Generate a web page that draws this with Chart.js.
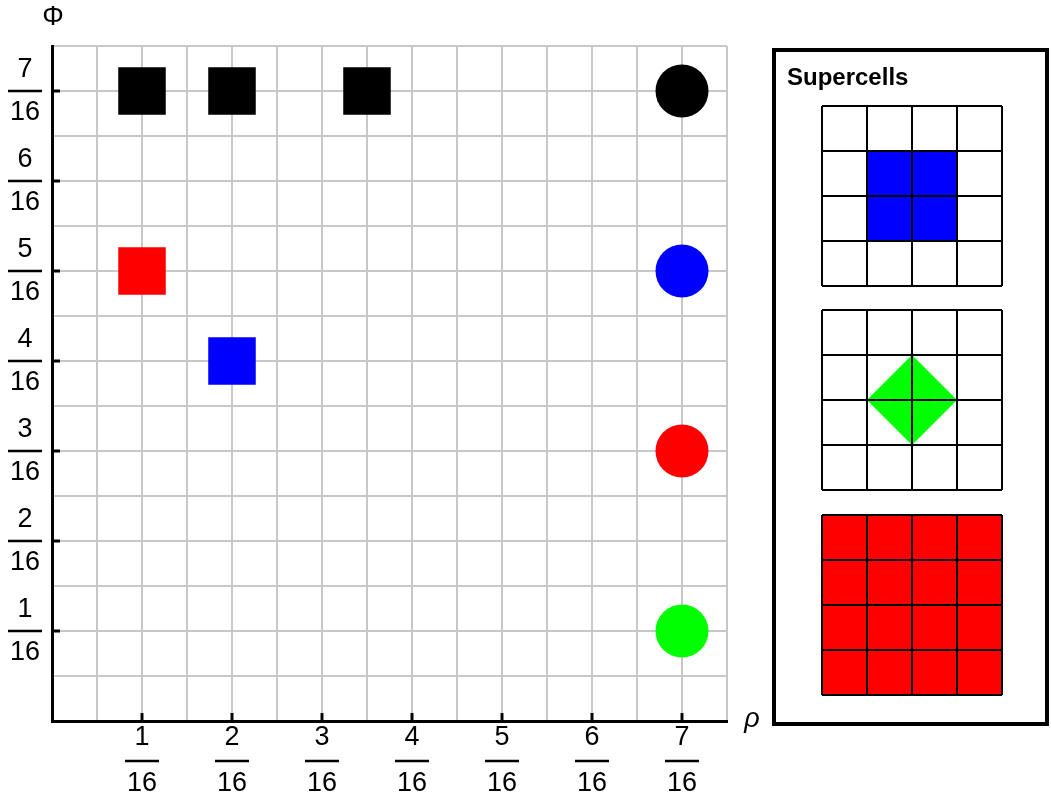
<!DOCTYPE html>
<html>
<head>
<meta charset="utf-8">
<script src="https://cdn.jsdelivr.net/npm/chart.js@4/dist/chart.umd.min.js"></script>
<style>
  html, body { margin: 0; padding: 0; background: #fff; }
  #wrap { width: 1051px; height: 803px; }
</style>
</head>
<body>
<div id="wrap"><canvas id="chart"></canvas></div>
<script>
// positions are in units of 1/16
const squareRho = [1, 2, 3.5, 1, 2];
const squarePhi = [7, 7, 7, 5, 4];
const squareColors = ["#000000", "#000000", "#000000", "#ff0000", "#0000ff"];

const circleRho = [7, 7, 7, 7];
const circlePhi = [7, 5, 3, 1];
const circleColors = ["#000000", "#0000ff", "#ff0000", "#00ff00"];

const tickNumerators = [1, 2, 3, 4, 5, 6, 7];
const denominator = "16";

const legendTitle = "Supercells";
const legendKinds = ["block", "diamond", "full"];
const legendColors = ["#0000ff", "#00ff00", "#ff0000"];

const FONT = "'Liberation Sans', Arial, Helvetica, sans-serif";

const fracLabel = (v) => tickNumerators.includes(v) ? [String(v), "", denominator] : "";

const toPoints = (xs, ys) => xs.map((x, i) => ({ x: x, y: ys[i] }));

// fraction bars, inward tick marks, axis symbols
const axisExtras = {
  id: "axisExtras",
  afterDraw(chart) {
    const ctx = chart.ctx;
    const xs = chart.scales.x, ys = chart.scales.y;
    ctx.save();
    ctx.strokeStyle = "#000";
    ctx.lineCap = "butt";

    // inward ticks
    ctx.lineWidth = 3;
    tickNumerators.forEach((v) => {
      const px = xs.getPixelForValue(v);
      ctx.beginPath();
      ctx.moveTo(px, xs.top);
      ctx.lineTo(px, xs.top - 8);
      ctx.stroke();
      const py = ys.getPixelForValue(v);
      ctx.beginPath();
      ctx.moveTo(ys.right, py);
      ctx.lineTo(ys.right + 8, py);
      ctx.stroke();
    });

    // fraction bars
    ctx.lineWidth = 2.5;
    const xFont = xs.options.ticks.font;
    const xLh = xFont.size * xFont.lineHeight;
    const xBarY = xs.top + xs.options.ticks.padding + xLh * 1.5;
    const yBarX = ys.right - ys.options.ticks.padding - 15;
    tickNumerators.forEach((v) => {
      const px = xs.getPixelForValue(v);
      ctx.beginPath();
      ctx.moveTo(px - 17, xBarY);
      ctx.lineTo(px + 17, xBarY);
      ctx.stroke();
      const py = ys.getPixelForValue(v);
      ctx.beginPath();
      ctx.moveTo(yBarX - 17, py);
      ctx.lineTo(yBarX + 17, py);
      ctx.stroke();
    });

    // axis symbols
    ctx.fillStyle = "#000";
    ctx.textAlign = "center";
    ctx.textBaseline = "middle";
    ctx.font = "27px " + FONT;
    ctx.fillText("\u03A6", ys.right + 1, 18);
    ctx.textBaseline = "alphabetic";
    ctx.font = "italic 27px " + FONT;
    ctx.fillText("\u03C1", xs.right + 25, xs.top + 6);
    ctx.restore();
  }
};

// legend box with the three supercell patterns
const supercellLegend = {
  id: "supercellLegend",
  afterDraw(chart) {
    const ctx = chart.ctx;
    const area = chart.chartArea;
    const boxX = area.right + 47, boxY = area.top + 4;
    const boxW = 273, boxH = 674;
    ctx.save();
    ctx.strokeStyle = "#000";
    ctx.lineWidth = 4;
    ctx.strokeRect(boxX, boxY, boxW, boxH);

    ctx.fillStyle = "#000";
    ctx.font = "bold 24px " + FONT;
    ctx.textAlign = "left";
    ctx.textBaseline = "alphabetic";
    ctx.fillText(legendTitle, boxX + 13, boxY + 35);

    const cell = 45, n = 4;
    const gx = boxX + 48;
    const tops = [boxY + 56, boxY + 260, boxY + 465];
    legendKinds.forEach((kind, k) => {
      const gy = tops[k];
      ctx.fillStyle = legendColors[k];
      if (kind === "block") {
        ctx.fillRect(gx + cell, gy + cell, cell * 2, cell * 2);
      } else if (kind === "diamond") {
        const cx = gx + cell * 2, cy = gy + cell * 2;
        ctx.beginPath();
        ctx.moveTo(cx, cy - cell);
        ctx.lineTo(cx + cell, cy);
        ctx.lineTo(cx, cy + cell);
        ctx.lineTo(cx - cell, cy);
        ctx.closePath();
        ctx.fill();
      } else {
        ctx.fillRect(gx, gy, cell * n, cell * n);
      }
      ctx.strokeStyle = "#000";
      ctx.lineWidth = 2;
      for (let i = 0; i <= n; i++) {
        ctx.beginPath();
        ctx.moveTo(gx + i * cell, gy);
        ctx.lineTo(gx + i * cell, gy + cell * n);
        ctx.stroke();
        ctx.beginPath();
        ctx.moveTo(gx, gy + i * cell);
        ctx.lineTo(gx + cell * n, gy + i * cell);
        ctx.stroke();
      }
    });
    ctx.restore();
  }
};

new Chart(document.getElementById("chart"), {
  type: "scatter",
  data: {
    datasets: [
      {
        label: "squares",
        data: toPoints(squareRho, squarePhi),
        pointStyle: "rect",
        pointRadius: 33.6,
        pointBackgroundColor: squareColors,
        pointBorderWidth: 0,
      },
      {
        label: "circles",
        data: toPoints(circleRho, circlePhi),
        pointStyle: "circle",
        pointRadius: 26.5,
        pointBackgroundColor: circleColors,
        pointBorderWidth: 0,
      },
    ],
  },
  options: {
    responsive: true,
    maintainAspectRatio: false,
    animation: false,
    events: [],
    layout: { padding: { top: 46, right: 324, bottom: 0, left: 0 } },
    plugins: {
      legend: { display: false },
      tooltip: { enabled: false },
    },
    scales: {
      x: {
        type: "linear",
        min: 0,
        max: 7.5,
        afterFit: (s) => { s.height = 82; },
        border: { display: true, color: "#000", width: 3 },
        grid: { color: "#c8c8c8", lineWidth: 2, drawTicks: false },
        ticks: {
          stepSize: 0.5,
          autoSkip: false,
          maxRotation: 0,
          padding: 5.5,
          color: "#000",
          font: { family: FONT, size: 27, lineHeight: 0.85 },
          callback: fracLabel,
        },
      },
      y: {
        type: "linear",
        min: 0,
        max: 7.5,
        afterFit: (s) => { s.width = 52; },
        border: { display: true, color: "#000", width: 3 },
        grid: { color: "#c8c8c8", lineWidth: 2, drawTicks: false },
        ticks: {
          stepSize: 0.5,
          autoSkip: false,
          crossAlign: "center",
          padding: 12,
          color: "#000",
          font: { family: FONT, size: 27, lineHeight: 0.78 },
          callback: fracLabel,
        },
      },
    },
  },
  plugins: [axisExtras, supercellLegend],
});
</script>
</body>
</html>
